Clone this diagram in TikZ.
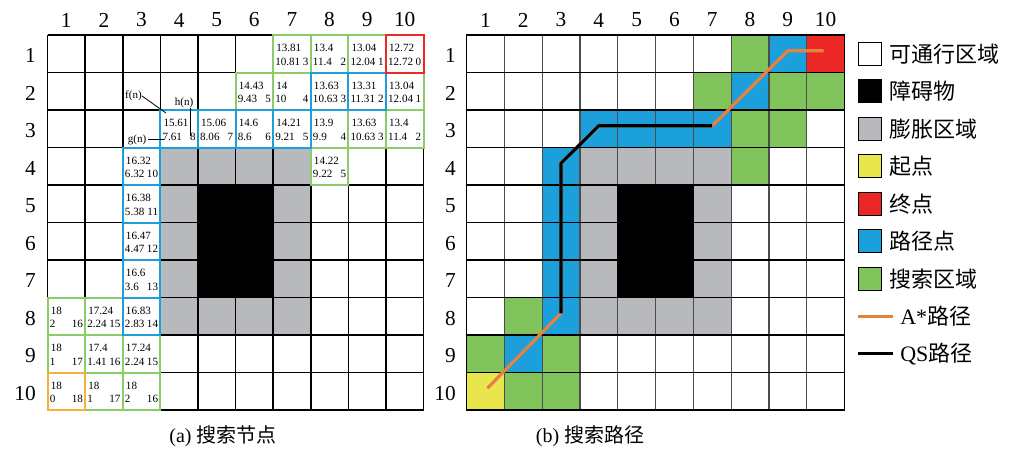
\documentclass[tikz,border=0pt]{standalone}
\usepackage{fontspec}
\setmainfont{Liberation Serif}
\newfontfamily\cjk{Noto Sans CJK SC}
\usetikzlibrary{calc}
\definecolor{gr}{RGB}{130,196,92}
\definecolor{grb}{RGB}{140,204,104}
\definecolor{bl}{RGB}{28,160,220}
\definecolor{rd}{RGB}{236,40,38}
\definecolor{yl}{RGB}{232,230,76}
\definecolor{gy}{RGB}{184,185,188}
\definecolor{og}{RGB}{232,128,64}
\definecolor{ob}{RGB}{246,178,56}
\def\LX{47.5}\def\RX{466.5}\def\TY{35}\def\CW{37.6}\def\RW{37.8}\def\CH{37.5}
\newcommand\lcell[6]{%
  \draw[#3,cb] ({\LX+\CW*(#1-1)},{\TY+\CH*(#2-1)}) rectangle ++(\CW,\CH);
  \node[ct,anchor=west] (f#1x#2) at ({\LX+\CW*(#1-1)+3},{\TY+\CH*(#2-1)+13}) {#4};
  \node[ct,anchor=west] (g#1x#2) at ({\LX+\CW*(#1-1)+2},{\TY+\CH*(#2-1)+26.5}) {#5};
  \node[ct,anchor=east] (h#1x#2) at ({\LX+\CW*#1-2},{\TY+\CH*(#2-1)+26.5}) {#6};
}
\begin{document}
\begin{tikzpicture}[x=0.75pt,y=-0.75pt,
  gl/.style={line width=1.2pt,black},
  vl/.style={line width=0.9pt,black!70},
  cb/.style={line width=1.5pt},
  ct/.style={inner sep=0pt,font=\fontsize{8.3}{9}\selectfont},
  num/.style={inner sep=0pt,font=\fontsize{16}{18}\selectfont},
  leg/.style={inner sep=0pt,anchor=west,font=\fontsize{16.5}{18}\selectfont\cjk},
  legbox/.style={draw=black,line width=1pt,minimum size=17.25pt,inner sep=0pt},
  captxt/.style={inner sep=0pt,font=\fontsize{15}{17}\selectfont},
  apath/.style={og,line width=2.4pt},
  qpath/.style={black,line width=2.3pt},
  lead/.style={black,line width=0.6pt}]
\useasboundingbox (0,0) rectangle (1010,457);
% ---------------- left grid ----------------
\foreach \c/\r in {4/4,5/4,6/4,7/4,4/8,5/8,6/8,7/8,4/5,4/6,4/7,7/5,7/6,7/7}
  \fill[gy] ({\LX+\CW*(\c-1)},{\TY+\CH*(\r-1)}) rectangle ++(\CW,\CH);
\foreach \i in {0,...,10} {
  \draw[gl] ({\LX+\CW*\i},\TY) -- ++(0,{10*\CH});
  \draw[gl] (\LX,{\TY+\CH*\i}) -- ++({10*\CW},0);
}
\filldraw[gl,fill=black] ({\LX+4*\CW},{\TY+4*\CH}) rectangle ++({2*\CW},{3*\CH});
% green cells
\lcell{7}{1}{grb}{13.81}{10.81}{3}
\lcell{8}{1}{grb}{13.4}{11.4}{2}
\lcell{9}{1}{grb}{13.04}{12.04}{1}
\lcell{6}{2}{grb}{14.43}{9.43}{5}
\lcell{7}{2}{grb}{14}{10}{4}
\lcell{10}{2}{grb}{13.04}{12.04}{1}
\lcell{8}{3}{grb}{13.9}{9.9}{4}
\lcell{9}{3}{grb}{13.63}{10.63}{3}
\lcell{10}{3}{grb}{13.4}{11.4}{2}
\lcell{8}{4}{grb}{14.22}{9.22}{5}
\lcell{1}{8}{grb}{18}{2}{16}
\lcell{2}{8}{grb}{17.24}{2.24}{15}
\lcell{1}{9}{grb}{18}{1}{17}
\lcell{2}{9}{grb}{17.4}{1.41}{16}
\lcell{3}{9}{grb}{17.24}{2.24}{15}
\lcell{2}{10}{grb}{18}{1}{17}
\lcell{3}{10}{grb}{18}{2}{16}
% blue cells
\lcell{8}{2}{bl}{13.63}{10.63}{3}
\lcell{9}{2}{bl}{13.31}{11.31}{2}
\lcell{4}{3}{bl}{15.61}{7.61}{8}
\lcell{5}{3}{bl}{15.06}{8.06}{7}
\lcell{6}{3}{bl}{14.6}{8.6}{6}
\lcell{7}{3}{bl}{14.21}{9.21}{5}
\lcell{3}{4}{bl}{16.32}{6.32}{10}
\lcell{3}{5}{bl}{16.38}{5.38}{11}
\lcell{3}{6}{bl}{16.47}{4.47}{12}
\lcell{3}{7}{bl}{16.6}{3.6}{13}
\lcell{3}{8}{bl}{16.83}{2.83}{14}
% goal and start
\lcell{10}{1}{rd}{12.72}{12.72}{0}
\lcell{1}{10}{ob}{18}{0}{18}
% labels f(n), h(n), g(n)
\node[ct] (fn) at (133.5,96) {f(n)};
\coordinate (fe) at (166,113);
\draw[lead] (fn.east) -- (fe);
\node[ct] (hn) at (184,103) {h(n)};
\coordinate (he) at (190.7,136);
\draw[lead] (hn.south -| he) -- (he);
\node[ct] (gn) at (137,139.5) {g(n)};
\coordinate (ge) at (163.5,139.5);
\draw[lead] ([xshift=1.5pt]gn.east) -- (ge);
% ---------------- right grid ----------------
\foreach \c/\r in {4/4,5/4,6/4,7/4,4/8,5/8,6/8,7/8,4/5,4/6,4/7,7/5,7/6,7/7}
  \fill[gy] ({\RX+\RW*(\c-1)},{\TY+\CH*(\r-1)}) rectangle ++(\RW,\CH);
\foreach \c/\r in {8/1,7/2,9/2,10/2,8/3,9/3,8/4,2/8,1/9,3/9,2/10,3/10}
  \fill[gr] ({\RX+\RW*(\c-1)},{\TY+\CH*(\r-1)}) rectangle ++(\RW,\CH);
\foreach \c/\r in {9/1,8/2,4/3,5/3,6/3,7/3,3/4,3/5,3/6,3/7,3/8,2/9}
  \fill[bl] ({\RX+\RW*(\c-1)},{\TY+\CH*(\r-1)}) rectangle ++(\RW,\CH);
\fill[rd] ({\RX+\RW*9},\TY) rectangle ++(\RW,\CH);
\fill[yl] (\RX,{\TY+\CH*9}) rectangle ++(\RW,\CH);
\foreach \i in {1,...,9}
  \draw[vl] ({\RX+\RW*\i},\TY) -- ++(0,{10*\CH});
\foreach \i in {0,...,10}
  \draw[gl] (\RX,{\TY+\CH*\i}) -- ++({10*\RW},0);
\draw[gl] (\RX,\TY) rectangle ++({10*\RW},{10*\CH});
\filldraw[gl,fill=black] ({\RX+4*\RW},{\TY+4*\CH}) rectangle ++({2*\RW},{3*\CH});
% paths
\coordinate (s) at ({\RX+\RW*0.5+2},{\TY+\CH*9.5-3});
\coordinate (a) at ({\RX+\RW*2.5},{\TY+\CH*7.5-3});
\coordinate (b) at ({\RX+\RW*2.5},{\TY+\CH*3.5-3});
\coordinate (c) at ({\RX+\RW*3.5},{\TY+\CH*2.5-3});
\coordinate (d) at ({\RX+\RW*6.5},{\TY+\CH*2.5-3});
\coordinate (e) at ({\RX+\RW*8.5},{\TY+\CH*0.5-3});
\coordinate (g) at ({\RX+\RW*9.5-2},{\TY+\CH*0.5-3});
\draw[apath] (s) -- (a) -- (b) -- (c) -- (d) -- (e) -- (g);
\draw[qpath,line join=miter] (a) -- (b) -- (c) -- (d);
% ---------------- numbers ----------------
\foreach \i in {1,...,10} {
  \node[num] (lc\i) at ({\LX+\CW*(\i-0.5)},20) {\i};
  \node[num] (rc\i) at ({\RX+\RW*(\i-0.5)},20) {\i};
  \node[num,anchor=east] (lr\i) at (36,{\TY+\CH*(\i-0.5)+2}) {\i};
  \node[num,anchor=east] (rr\i) at (456,{\TY+\CH*(\i-0.5)+2}) {\i};
}
% ---------------- legend ----------------
\node[legbox,fill=white] (k1) at (870,{\TY+\CH*0.5}) {};
\node[leg] (t1) at (889,{\TY+\CH*0.5}) {可通行区域};
\node[legbox,fill=black] (k2) at (870,{\TY+\CH*1.5}) {};
\node[leg] (t2) at (889,{\TY+\CH*1.5}) {障碍物};
\node[legbox,fill=gy] (k3) at (870,{\TY+\CH*2.5}) {};
\node[leg] (t3) at (889,{\TY+\CH*2.5}) {膨胀区域};
\node[legbox,fill=yl] (k4) at (870,{\TY+\CH*3.5}) {};
\node[leg] (t4) at (889,{\TY+\CH*3.5}) {起点};
\node[legbox,fill=rd] (k5) at (870,{\TY+\CH*4.5}) {};
\node[leg] (t5) at (889,{\TY+\CH*4.5}) {终点};
\node[legbox,fill=bl] (k6) at (870,{\TY+\CH*5.5}) {};
\node[leg] (t6) at (889,{\TY+\CH*5.5}) {路径点};
\node[legbox,fill=gr] (k7) at (870,{\TY+\CH*6.5}) {};
\node[leg] (t7) at (889,{\TY+\CH*6.5}) {搜索区域};
\coordinate (l8a) at (858,{\TY+\CH*7.5});
\coordinate (l8b) at (893,{\TY+\CH*7.5});
\draw[apath,line width=2pt] (l8a) -- (l8b);
\node[leg] (t8) at (900,{\TY+\CH*7.5}) {\rmfamily A*{\cjk 路径}};
\coordinate (l9a) at (858,{\TY+\CH*8.5});
\coordinate (l9b) at (893,{\TY+\CH*8.5});
\draw[qpath,line width=2pt] (l9a) -- (l9b);
\node[leg] (t9) at (900,{\TY+\CH*8.5}) {\rmfamily QS{\cjk 路径}};
% ---------------- captions ----------------
\node[captxt] (capa) at (223,436) {(a) {\cjk 搜索节点}};
\node[captxt] (capb) at (590,436) {(b) {\cjk 搜索路径}};
\end{tikzpicture}
\end{document}
